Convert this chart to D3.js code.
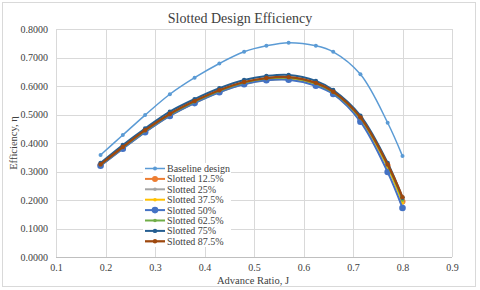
<!DOCTYPE html>
<html>
<head>
<meta charset="utf-8">
<script src="https://cdn.jsdelivr.net/npm/d3@7"></script>
<style>
  body { margin: 0; background: #fff; }
</style>
</head>
<body>
<div id="chart"></div>
<script>
var width = 480,
    height = 290;
var serif = '"Liberation Serif", "DejaVu Serif", serif';

// data
var advanceRatio = [0.19, 0.235, 0.28, 0.33, 0.38, 0.43, 0.48, 0.525, 0.57, 0.625, 0.66, 0.715, 0.77, 0.8];
var baseline   = [0.358, 0.428, 0.498, 0.571, 0.629, 0.679, 0.720, 0.741, 0.752, 0.741, 0.720, 0.641, 0.471, 0.354];
var slotted125 = [0.323, 0.383, 0.441, 0.498, 0.543, 0.581, 0.610, 0.624, 0.627, 0.607, 0.577, 0.486, 0.320, 0.195];
var slotted25  = [0.322, 0.382, 0.440, 0.497, 0.542, 0.580, 0.608, 0.622, 0.625, 0.605, 0.575, 0.484, 0.318, 0.192];
var slotted375 = [0.321, 0.381, 0.439, 0.496, 0.541, 0.579, 0.607, 0.621, 0.624, 0.604, 0.574, 0.482, 0.315, 0.190];
var slotted50  = [0.320, 0.380, 0.438, 0.495, 0.540, 0.578, 0.606, 0.620, 0.622, 0.601, 0.572, 0.475, 0.298, 0.172];
var slotted625 = [0.324, 0.385, 0.443, 0.500, 0.545, 0.583, 0.612, 0.626, 0.629, 0.609, 0.578, 0.488, 0.322, 0.200];
var slotted75  = [0.330, 0.393, 0.451, 0.510, 0.554, 0.592, 0.621, 0.635, 0.639, 0.618, 0.586, 0.496, 0.330, 0.208];
var slotted875 = [0.325, 0.386, 0.445, 0.502, 0.547, 0.585, 0.614, 0.628, 0.631, 0.611, 0.580, 0.490, 0.325, 0.210];

var seriesNames = ['Baseline design', 'Slotted 12.5%', 'Slotted 25%', 'Slotted 37.5%', 'Slotted 50%', 'Slotted 62.5%', 'Slotted 75%', 'Slotted 87.5%'];
var seriesValues = [baseline, slotted125, slotted25, slotted375, slotted50, slotted625, slotted75, slotted875];
var colors = ['#5B9BD5', '#ED7D31', '#A5A5A5', '#FFC000', '#4472C4', '#70AD47', '#255E91', '#9E480E'];
var markerR = [2, 3, 1.8, 1.8, 3.3, 1.8, 2.2, 2.2];
var lineW = [1.5, 2, 2, 2, 2, 2, 2, 2.25];

var xTicks = [0.1, 0.2, 0.3, 0.4, 0.5, 0.6, 0.7, 0.8, 0.9];
var yTicks = [0, 0.1, 0.2, 0.3, 0.4, 0.5, 0.6, 0.7, 0.8];

var svg = d3.select('#chart').append('svg')
    .attr('width', width)
    .attr('height', height)
    .style('font-family', serif);

svg.append('rect')
    .attr('x', 2.5).attr('y', 2.5)
    .attr('width', 473).attr('height', 284)
    .attr('fill', '#fff')
    .attr('stroke', '#d9d9d9');

var plotL = 56, plotR = 452, plotT = 29, plotB = 257;

var x = d3.scaleLinear().domain([0.1, 0.9]).range([plotL, plotR]);
var y = d3.scaleLinear().domain([0, 0.8]).range([plotB, plotT]);

// grid
svg.append('g').selectAll('line')
    .data(yTicks).enter().append('line')
    .attr('x1', plotL).attr('x2', plotR)
    .attr('y1', function(d){ return Math.round(y(d)) + 0.5; })
    .attr('y2', function(d){ return Math.round(y(d)) + 0.5; })
    .attr('stroke', function(d){ return d === 0 ? '#bfbfbf' : '#d9d9d9'; });

svg.append('g').selectAll('line')
    .data(xTicks).enter().append('line')
    .attr('y1', plotT).attr('y2', plotB)
    .attr('x1', function(d){ return Math.round(x(d)) + 0.5; })
    .attr('x2', function(d){ return Math.round(x(d)) + 0.5; })
    .attr('stroke', '#d9d9d9');

// axes (labels only)
var xAxis = svg.append('g')
    .attr('transform', 'translate(0,' + plotB + ')')
    .call(d3.axisBottom(x).tickValues(xTicks).tickFormat(d3.format('.1f')).tickSize(0).tickPadding(7));
xAxis.select('.domain').remove();
xAxis.attr('font-family', serif).attr('font-size', 10);
xAxis.selectAll('text').attr('fill', '#404040');

var yAxis = svg.append('g')
    .attr('transform', 'translate(' + plotL + ',0)')
    .call(d3.axisLeft(y).tickValues(yTicks).tickFormat(d3.format('.4f')).tickSize(0).tickPadding(8));
yAxis.select('.domain').remove();
yAxis.attr('font-family', serif).attr('font-size', 10);
yAxis.selectAll('text').attr('fill', '#404040');

// titles
svg.append('text')
    .attr('x', 240).attr('y', 23)
    .attr('text-anchor', 'middle')
    .attr('font-family', serif)
    .attr('font-size', 14)
    .attr('fill', '#404040')
    .text('Slotted Design Efficiency');

svg.append('text')
    .attr('x', 253).attr('y', 284)
    .attr('text-anchor', 'middle')
    .attr('font-family', serif)
    .attr('font-size', 10.5)
    .attr('fill', '#404040')
    .text('Advance Ratio, J');

svg.append('text')
    .attr('transform', 'translate(17,' + ((plotT + plotB) / 2) + ') rotate(-90)')
    .attr('text-anchor', 'middle')
    .attr('font-family', serif)
    .attr('font-size', 10.5)
    .attr('fill', '#404040')
    .text('Efficiency, η');

// series
var line = d3.line()
    .x(function(d){ return x(d[0]); })
    .y(function(d){ return y(d[1]); })
    .curve(d3.curveCatmullRom.alpha(0.5));

seriesValues.forEach(function(vals, i){
    var pts = advanceRatio.map(function(a, j){ return [a, vals[j]]; });
    var g = svg.append('g');
    g.append('path')
        .attr('d', line(pts))
        .attr('fill', 'none')
        .attr('stroke', colors[i])
        .attr('stroke-width', lineW[i]);
    g.selectAll('circle')
        .data(pts).enter().append('circle')
        .attr('cx', function(d){ return x(d[0]); })
        .attr('cy', function(d){ return y(d[1]); })
        .attr('r', markerR[i])
        .attr('fill', colors[i]);
});

// legend
var legend = svg.append('g');
legend.append('rect')
    .attr('x', 143).attr('y', 163)
    .attr('width', 88).attr('height', 84)
    .attr('fill', '#fff');

seriesNames.forEach(function(name, i){
    var ly = 168.5 + i * 10.4;
    legend.append('line')
        .attr('x1', 145).attr('x2', 165)
        .attr('y1', ly).attr('y2', ly)
        .attr('stroke', colors[i])
        .attr('stroke-width', lineW[i]);
    legend.append('circle')
        .attr('cx', 155).attr('cy', ly)
        .attr('r', markerR[i])
        .attr('fill', colors[i]);
    legend.append('text')
        .attr('x', 167).attr('y', ly + 3.5)
        .attr('font-family', serif)
        .attr('font-size', 10)
        .attr('fill', '#404040')
        .text(name);
});
</script>
</body>
</html>
